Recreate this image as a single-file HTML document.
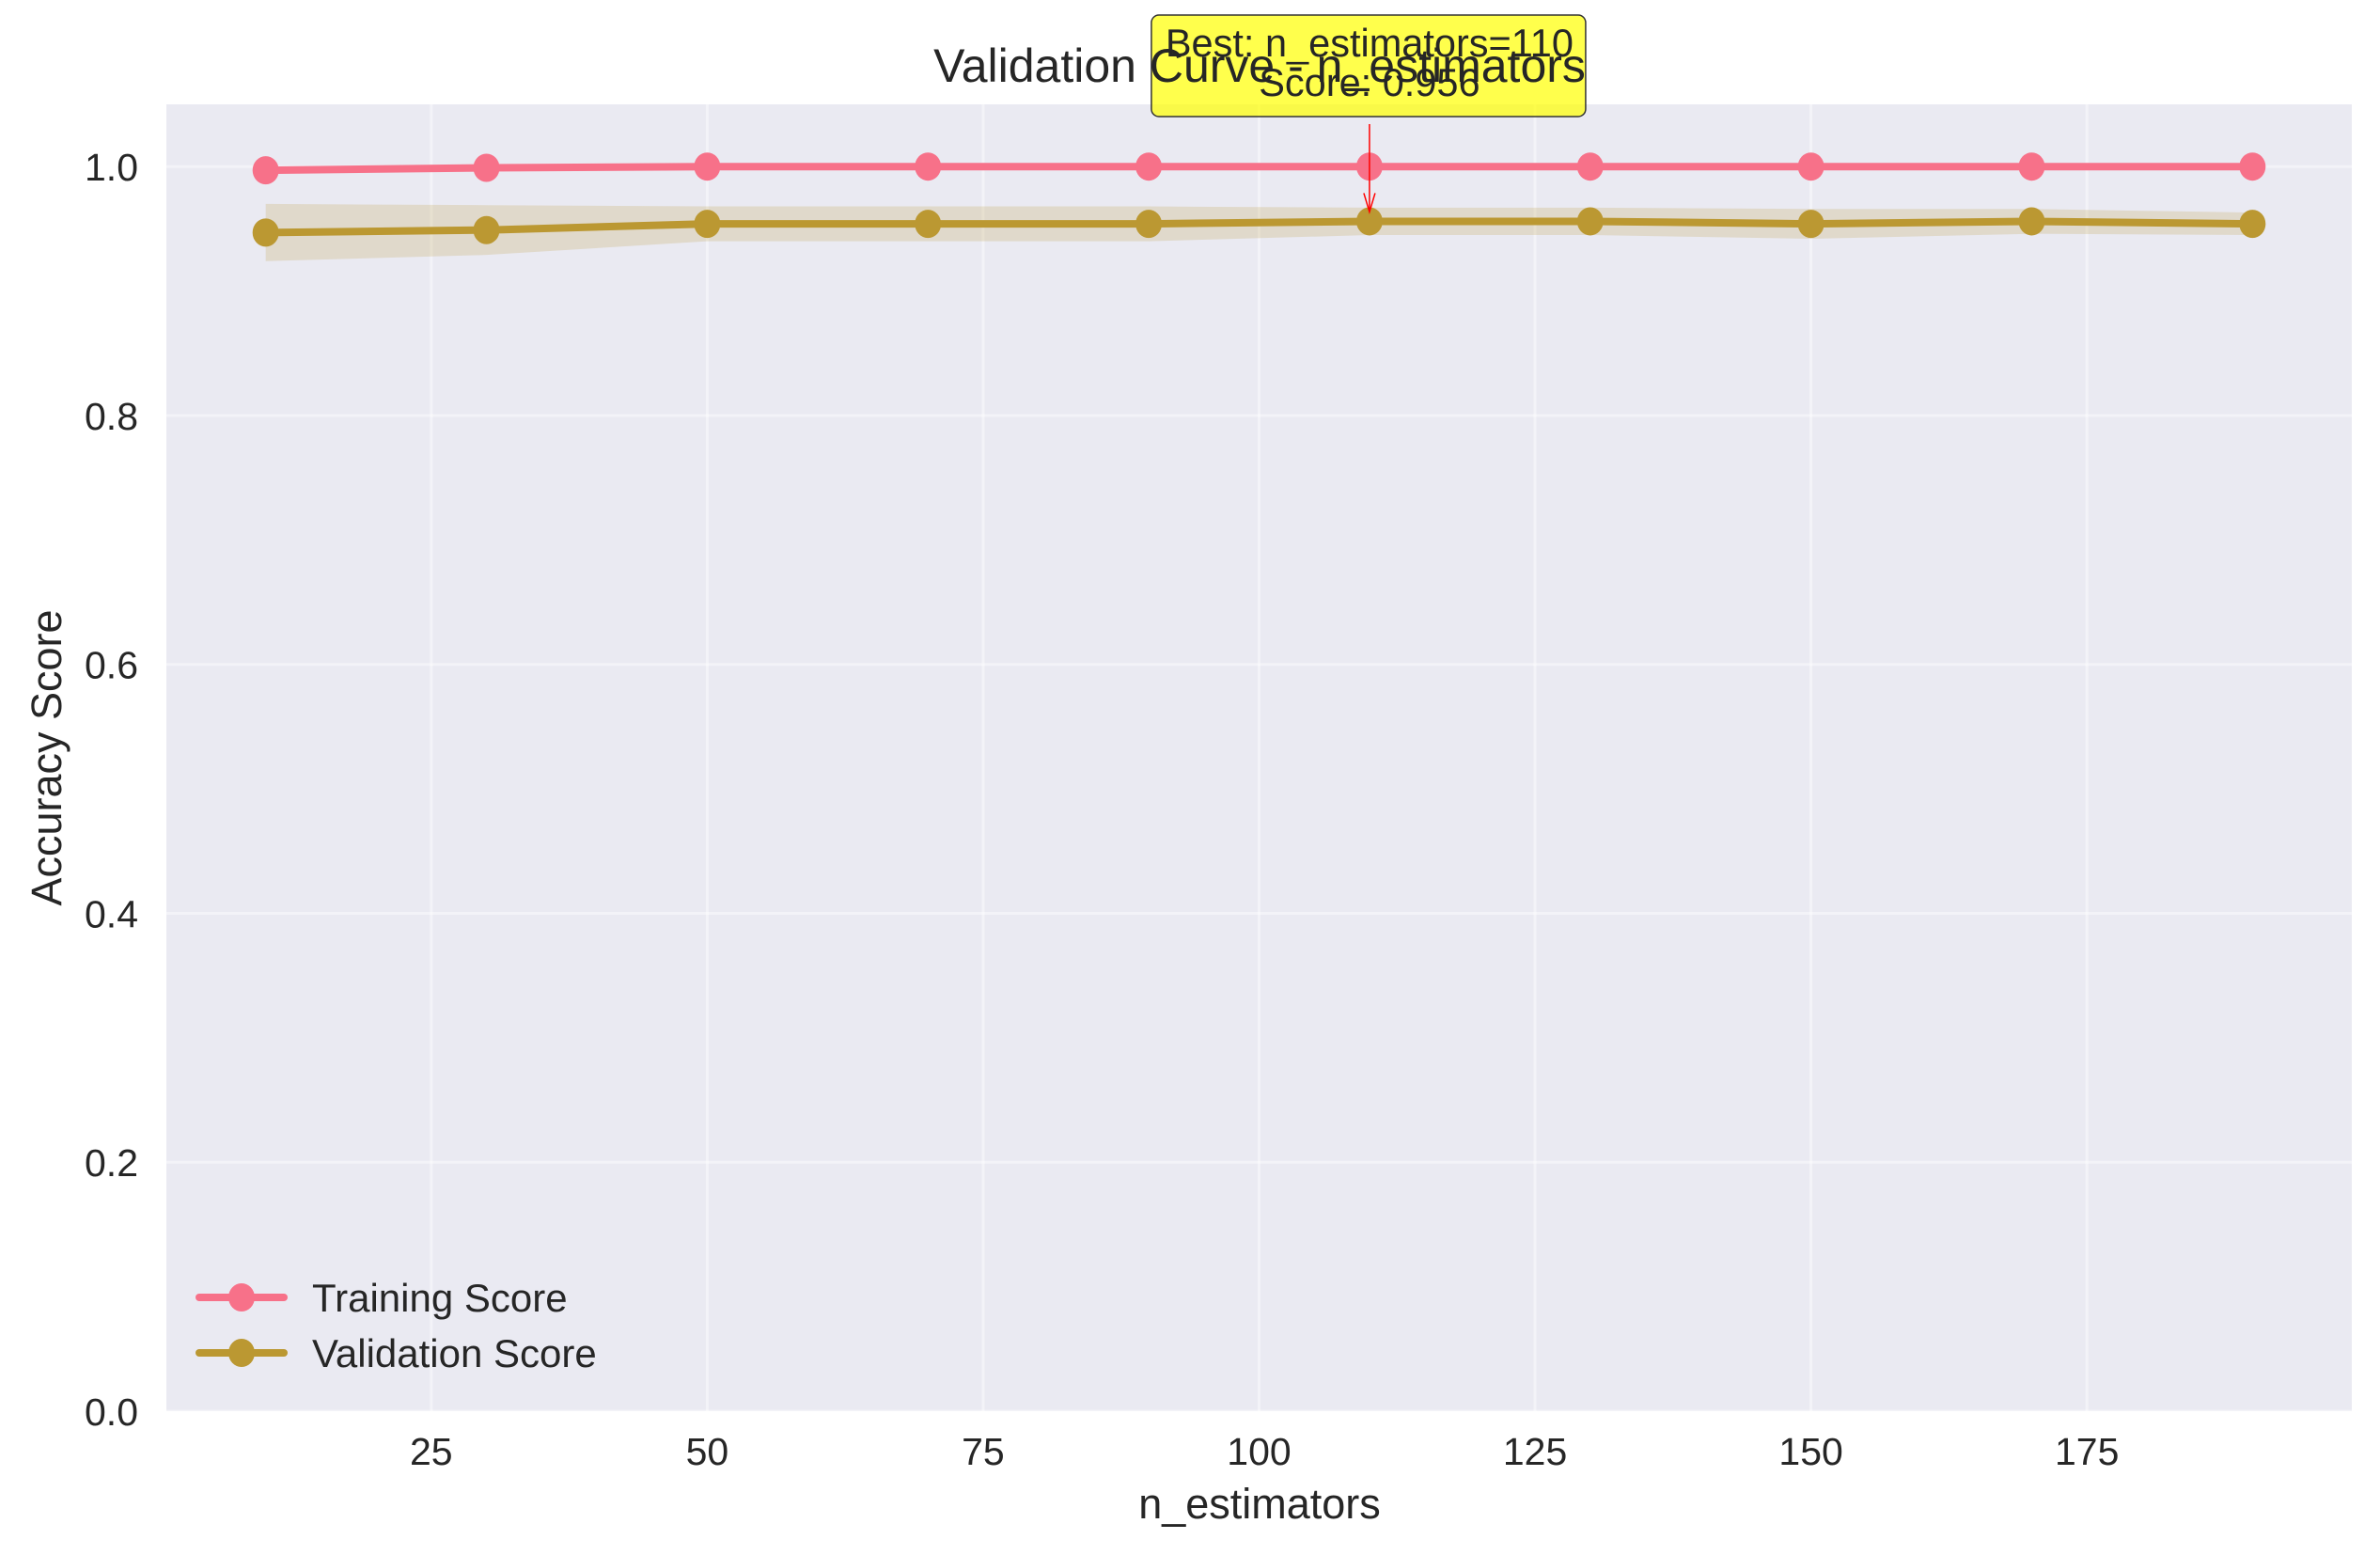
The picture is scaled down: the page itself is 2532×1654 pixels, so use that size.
<!DOCTYPE html>
<html><head><meta charset="utf-8"><style>
html,body{margin:0;padding:0;background:#fff;}
svg{display:block;font-family:"Liberation Sans",sans-serif;}
</style></head><body>
<svg id="chart" width="2532" height="1654" viewBox="0 0 2532 1654">
<rect x="177" y="111" width="2325" height="1390" fill="#eaeaf2"/>
<g id="grid"></g>
<g id="band"></g>
<g id="lines"></g>
<g id="ticks"></g>
<text x="1340" y="1615" font-size="45" fill="#262626" text-anchor="middle">n_estimators</text>
<text transform="translate(65,806) rotate(-90)" font-size="45" fill="#262626" text-anchor="middle">Accuracy Score</text>
<g>
<line x1="212" y1="1380" x2="302" y2="1380" stroke="#f77189" stroke-width="8" stroke-linecap="round"/>
<ellipse cx="257" cy="1380" rx="14" ry="15" fill="#f77189"/>
<text x="332" y="1395" font-size="42" fill="#262626">Training Score</text>
<line x1="212" y1="1439" x2="302" y2="1439" stroke="#bb9832" stroke-width="8" stroke-linecap="round"/>
<ellipse cx="257" cy="1439" rx="14" ry="15" fill="#bb9832"/>
<text x="332" y="1454" font-size="42" fill="#262626">Validation Score</text>
</g>
<g id="annot"></g>
<text x="1340" y="87" font-size="50" fill="#262626" text-anchor="middle">Validation Curve - n_estimators</text>
</svg>
<script>
const xValues=[10,30,50,70,90,110,130,150,170,190];
const trainScores=[0.997,0.999,1.0,1.0,1.0,1.0,1.0,1.0,1.0,1.0];
const valScores=[0.947,0.949,0.954,0.954,0.954,0.956,0.956,0.954,0.956,0.954];
const valStd=[0.023,0.020,0.014,0.014,0.014,0.011,0.011,0.012,0.010,0.009];
const xTicks=[25,50,75,100,125,150,175];
const yTicks=[0.0,0.2,0.4,0.6,0.8,1.0];
const yTickLabels=["0.0","0.2","0.4","0.6","0.8","1.0"];
const bestN=110, bestScore=0.956;

const NS="http://www.w3.org/2000/svg";
const L=177,R=2502,T=111,B=1501,xmin=1,xmax=199,ymin=0,ymax=1.05;
const sx=v=>L+(v-xmin)/(xmax-xmin)*(R-L);
const sy=v=>B-(v-ymin)/(ymax-ymin)*(B-T);
function mk(tag,attrs,parent){const e=document.createElementNS(NS,tag);for(const k in attrs)e.setAttribute(k,attrs[k]);parent.appendChild(e);return e;}
const grid=document.getElementById('grid'),ticks=document.getElementById('ticks');
xTicks.forEach(v=>{
 const g=mk('line',{x1:sx(v),x2:sx(v),y1:T,y2:B,stroke:'#fff','stroke-opacity':0.45,'stroke-width':3},grid);
 
 
 const t=mk('text',{x:sx(v),y:1558,'font-size':41,fill:'#262626','text-anchor':'middle'},ticks);
 t.textContent=v;
 
 
});
yTicks.forEach((v,i)=>{
 const g=mk('line',{x1:L,x2:R,y1:sy(v),y2:sy(v),stroke:'#fff','stroke-opacity':0.45,'stroke-width':3},grid);
 
 
 const t=mk('text',{x:147,y:sy(v)+15,'font-size':41,fill:'#262626','text-anchor':'end'},ticks);
 t.textContent=yTickLabels[i];
 
 
});
let up=xValues.map((x,i)=>sx(x)+','+sy(valScores[i]+valStd[i]));
let dn=xValues.map((x,i)=>sx(x)+','+sy(valScores[i]-valStd[i])).reverse();
const band=mk('polygon',{points:up.concat(dn).join(' '),fill:'#bb9832','fill-opacity':0.2},document.getElementById('band'));


const lines=document.getElementById('lines');
function series(vals,color,name){
 const p=mk('polyline',{points:xValues.map((x,i)=>sx(x)+','+sy(vals[i])).join(' '),fill:'none',stroke:color,'stroke-width':8,'stroke-linejoin':'round'},lines);
 
 
 xValues.forEach((x,i)=>{
  const c=mk('ellipse',{cx:sx(x),cy:sy(vals[i]),rx:14,ry:15,fill:color},lines);
  
  
 });
}
series(trainScores,'#f77189','training');
series(valScores,'#bb9832','validation');
const an=document.getElementById('annot');
const ax=sx(bestN);
const ar=mk('line',{x1:ax,y1:132,x2:ax,y2:sy(bestScore)-10,stroke:'#ff0000','stroke-width':1.5},an);


const ah=mk('polyline',{points:(ax-6)+','+(sy(bestScore)-30)+' '+ax+','+(sy(bestScore)-10)+' '+(ax+6)+','+(sy(bestScore)-30),fill:'none',stroke:'#ff0000','stroke-width':1.5},an);


const box=mk('rect',{x:ax-232,y:16,width:462,height:108,rx:8,fill:'#ffff00','fill-opacity':0.7,stroke:'#333','stroke-width':1.5},an);


const t1=mk('text',{x:ax,y:60,'font-size':41.5,fill:'#262626','text-anchor':'middle'},an);
t1.textContent='Best: n_estimators='+bestN;


const t2=mk('text',{x:ax,y:102,'font-size':41.5,fill:'#262626','text-anchor':'middle'},an);
t2.textContent='Score: '+bestScore.toFixed(3);


</script>
</body></html>
